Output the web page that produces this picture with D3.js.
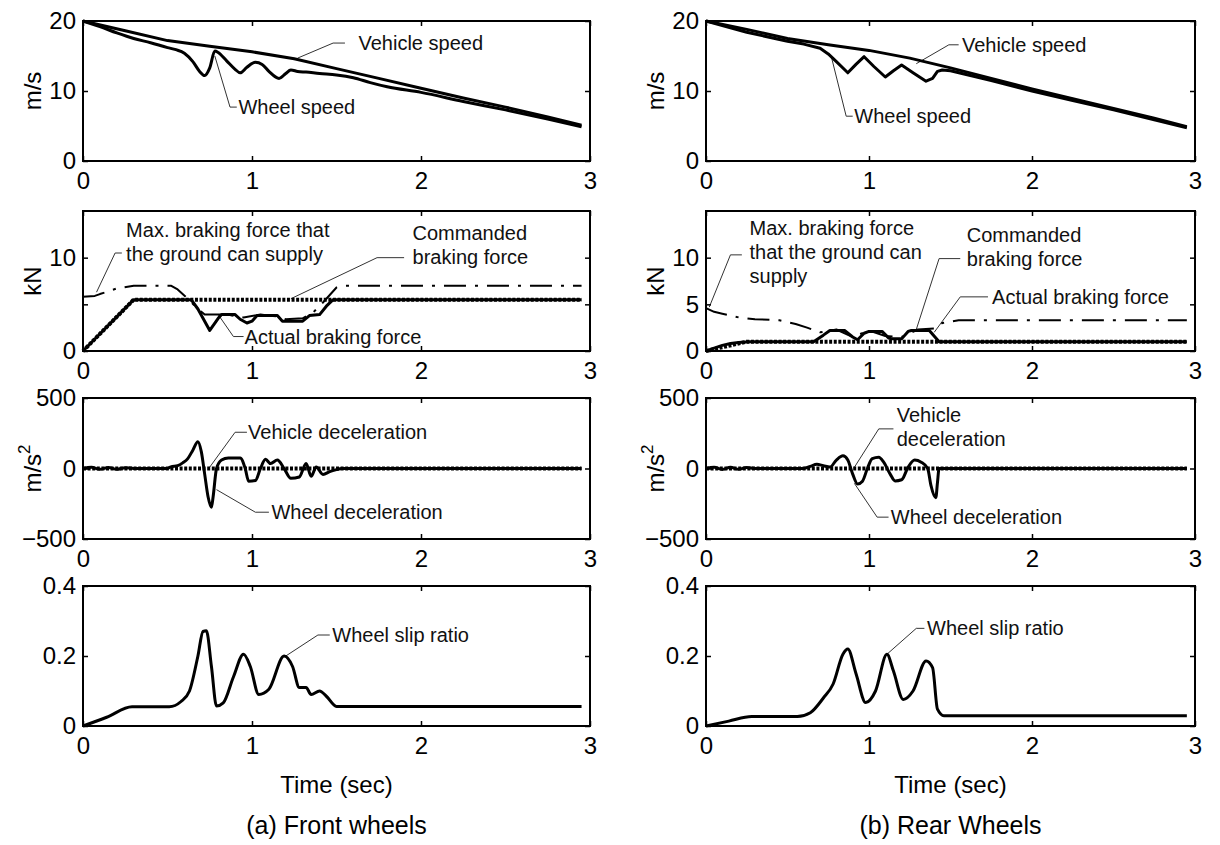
<!DOCTYPE html>
<html>
<head>
<meta charset="utf-8">
<script src="https://cdn.jsdelivr.net/npm/d3@7"></script>
<style>
  body { margin: 0; background: #fff; }
  svg { display: block; font-family: "Liberation Sans", Arial, Helvetica, sans-serif; }
</style>
</head>
<body>
<svg width="1220" height="845"></svg>
<script>
const timeTicks = [0, 1, 2, 3];

// speeds (m/s) as [time, value]
const frontVehicleSpeed = [[0,20],[0.25,18.6],[0.5,17.2],[0.75,16.4],[1.0,15.6],[1.25,14.6],[1.5,13.2],[1.75,11.8],[2.0,10.4],[2.25,9.0],[2.5,7.7],[2.75,6.3],[2.95,5.1]];
const frontWheelSpeed = [[0,20],[0.1,19.2],[0.2,18.3],[0.3,17.5],[0.4,16.9],[0.5,16.2],[0.55,15.9],[0.6,15.4],[0.65,14.2],[0.69,12.8],[0.72,12.2],[0.75,13.3],[0.78,15.7],[0.8,15.5],[0.85,14.3],[0.9,13.1],[0.93,12.6],[0.97,13.4],[1.02,14.1],[1.06,13.8],[1.1,12.8],[1.16,11.8],[1.2,12.5],[1.23,13.0],[1.27,12.8],[1.32,12.7],[1.4,12.5],[1.5,12.3],[1.6,11.9],[1.7,11.2],[1.8,10.6],[2.0,9.8],[2.25,8.5],[2.5,7.3],[2.75,6.0],[2.95,4.9]];
const rearVehicleSpeed = [[0,20],[0.25,18.8],[0.5,17.5],[0.75,16.6],[1.0,15.8],[1.25,14.7],[1.5,13.3],[1.75,11.8],[2.0,10.3],[2.25,8.9],[2.5,7.5],[2.75,6.1],[2.95,4.9]];
const rearWheelSpeed = [[0,20],[0.25,18.4],[0.5,17.1],[0.6,16.7],[0.7,16.1],[0.75,15.3],[0.8,14.2],[0.87,12.6],[0.92,13.8],[0.97,14.9],[1.03,13.5],[1.1,12.0],[1.15,12.9],[1.2,13.7],[1.27,12.6],[1.35,11.4],[1.39,11.8],[1.42,12.8],[1.45,13.0],[1.5,12.9],[1.75,11.5],[2.0,10.0],[2.25,8.65],[2.5,7.3],[2.75,5.9],[2.95,4.75]];

// braking forces (kN)
const frontCommandedForce = [[0,0],[0.3,5.5],[2.95,5.5]];
const frontActualForce = [[0,0],[0.3,5.5],[0.64,5.5],[0.68,4.5],[0.75,2.2],[0.8,3.5],[0.82,3.9],[0.9,3.9],[0.93,3.4],[0.97,3.0],[1.0,3.2],[1.03,3.8],[1.15,3.8],[1.18,3.2],[1.3,3.2],[1.34,3.8],[1.4,3.9],[1.44,4.8],[1.48,5.5],[2.95,5.5]];
const frontMaxForce = [[0,5.8],[0.07,5.9],[0.1,6.1],[0.2,6.7],[0.3,7.0],[0.52,7.0],[0.56,6.6],[0.62,5.6],[0.68,4.5],[0.72,3.9],[0.85,3.9],[0.95,3.6],[1.05,3.9],[1.15,3.7],[1.2,3.4],[1.3,3.5],[1.36,4.1],[1.42,5.2],[1.5,6.8],[1.55,7.0],[2.95,7.0]];
const rearCommandedForce = [[0,0],[0.25,1.0],[2.95,1.0]];
const rearActualForce = [[0,0],[0.05,0.3],[0.1,0.6],[0.15,0.8],[0.2,0.9],[0.27,1.0],[0.66,1.0],[0.72,1.7],[0.76,2.2],[0.85,2.2],[0.9,1.5],[0.93,1.2],[0.97,1.9],[1.0,2.1],[1.08,2.1],[1.12,1.4],[1.14,1.3],[1.2,1.3],[1.24,2.1],[1.26,2.2],[1.37,2.2],[1.41,1.4],[1.43,1.0],[2.95,1.0]];
const rearMaxForce = [[0,4.6],[0.05,4.2],[0.1,4.0],[0.2,3.6],[0.3,3.4],[0.45,3.3],[0.55,2.9],[0.62,2.5],[0.7,2.0],[0.8,2.3],[0.9,1.5],[1.0,2.2],[1.1,1.6],[1.2,1.5],[1.3,2.3],[1.4,2.4],[1.45,3.0],[1.55,3.3],[2.95,3.3]];

// decelerations (m/s^2)
const frontVehicleDecel = [[0,0],[2.95,0]];
const frontWheelDecel = [[0,0],[0.05,8],[0.1,-6],[0.15,7],[0.2,-6],[0.25,6],[0.3,0],[0.5,0],[0.52,12],[0.56,20],[0.59,40],[0.62,70],[0.65,130],[0.68,190],[0.7,120],[0.72,-40],[0.74,-200],[0.76,-275],[0.77,-200],[0.79,0],[0.82,60],[0.86,75],[0.93,75],[0.96,0],[0.98,-90],[1.02,-85],[1.05,0],[1.08,65],[1.11,35],[1.15,60],[1.19,0],[1.23,-70],[1.28,-60],[1.32,35],[1.35,-55],[1.38,10],[1.42,-42],[1.46,-22],[1.5,-8],[1.53,0],[2.95,0]];
const rearVehicleDecel = [[0,0],[2.95,0]];
const rearWheelDecel = [[0,0],[0.05,8],[0.1,-7],[0.15,8],[0.2,-6],[0.25,7],[0.3,0],[0.6,0],[0.64,15],[0.68,30],[0.72,20],[0.76,10],[0.8,60],[0.84,90],[0.87,60],[0.9,-40],[0.93,-110],[0.96,-90],[0.99,0],[1.02,70],[1.06,80],[1.09,45],[1.13,-40],[1.16,-88],[1.2,-80],[1.24,10],[1.28,60],[1.32,45],[1.36,0],[1.38,-120],[1.41,-207],[1.42,-100],[1.43,0],[2.95,0]];

// wheel slip ratio
const frontSlip = [[0,0],[0.14,0.025],[0.29,0.055],[0.51,0.055],[0.58,0.07],[0.63,0.1],[0.68,0.2],[0.71,0.27],[0.73,0.272],[0.76,0.17],[0.79,0.057],[0.83,0.066],[0.89,0.14],[0.95,0.205],[0.99,0.17],[1.04,0.09],[1.1,0.105],[1.19,0.2],[1.24,0.17],[1.28,0.11],[1.32,0.11],[1.35,0.09],[1.4,0.1],[1.44,0.085],[1.5,0.056],[2.95,0.056]];
const rearSlip = [[0,0],[0.14,0.014],[0.28,0.027],[0.56,0.027],[0.64,0.038],[0.72,0.08],[0.78,0.12],[0.84,0.205],[0.87,0.22],[0.92,0.15],[0.98,0.067],[1.04,0.1],[1.11,0.205],[1.15,0.157],[1.21,0.076],[1.27,0.1],[1.35,0.186],[1.39,0.167],[1.42,0.048],[1.46,0.029],[2.95,0.029]];

// layout
const columns = [
  {left: 83, right: 590, caption: '(a) Front wheels'},
  {left: 706, right: 1195, caption: '(b) Rear Wheels'}
];
const rows = [
  {top: 21, bottom: 161},
  {top: 211, bottom: 351},
  {top: 398, bottom: 539},
  {top: 586, bottom: 726}
];

const solid = {width: 3, dash: null};
const dotted = {width: 4, dash: '3,1.6'};
const dashdot = {width: 2, dash: '22,9,3,9'};
const smooth = d3.curveMonotoneX;

// panels[row][col]; series drawn in listed order
const panels = [
  [
    {domain: [0, 20], ticks: [0, 10, 20], labels: [0, 10, 20], ylabel: 'm/s',
     series: [{data: frontVehicleSpeed, style: solid}, {data: frontWheelSpeed, style: solid, curve: smooth}],
     notes: [
       {lines: ['Vehicle speed'], at: [1.63, 16.85], leader: [[1.55, 16.85], [1.48, 16.85], [1.27, 14.7]]},
       {lines: ['Wheel speed'], at: [0.92, 7.7], leader: [[0.91, 7.7], [0.87, 7.7], [0.78, 15.0]]}
     ]},
    {domain: [0, 20], ticks: [0, 10, 20], labels: [0, 10, 20], ylabel: 'm/s',
     series: [{data: rearVehicleSpeed, style: solid}, {data: rearWheelSpeed, style: solid}],
     notes: [
       {lines: ['Vehicle speed'], at: [1.57, 16.6], leader: [[1.55, 16.6], [1.49, 16.6], [1.29, 13.9]]},
       {lines: ['Wheel speed'], at: [0.91, 6.4], leader: [[0.9, 6.4], [0.86, 6.4], [0.77, 14.8]]}
     ]}
  ],
  [
    {domain: [0, 15], ticks: [0, 5, 10], labels: [0, 10], ylabel: 'kN',
     series: [{data: frontMaxForce, style: dashdot}, {data: frontActualForce, style: solid}, {data: frontCommandedForce, style: dotted}],
     notes: [
       {lines: ['Max. braking force that', 'the ground can supply'], at: [0.255, 13.0], leader: [[0.23, 10.5], [0.19, 10.5], [0.08, 6.3]]},
       {lines: ['Commanded', 'braking force'], at: [1.95, 12.6], leader: [[1.9, 10.0], [1.74, 10.0], [1.23, 5.6]]},
       {lines: ['Actual braking force'], at: [0.956, 1.55], leader: [[0.95, 1.55], [0.89, 1.55], [0.8, 3.9]]}
     ]},
    {domain: [0, 15], ticks: [0, 5, 10], labels: [0, 5, 10], ylabel: 'kN',
     series: [{data: rearMaxForce, style: dashdot}, {data: rearActualForce, style: solid}, {data: rearCommandedForce, style: dotted}],
     notes: [
       {lines: ['Max. braking force', 'that the ground can', 'supply'], at: [0.267, 13.15], leader: [[0.22, 10.3], [0.15, 10.3], [0.02, 4.7]]},
       {lines: ['Commanded', 'braking force'], at: [1.6, 12.4], leader: [[1.56, 9.9], [1.43, 9.9], [1.29, 2.3]]},
       {lines: ['Actual braking force'], at: [1.755, 5.8], leader: [[1.73, 5.8], [1.56, 5.8], [1.4, 2.0]]}
     ]}
  ],
  [
    {domain: [-500, 500], ticks: [-500, 0, 500], labels: [-500, 0, 500], ylabel: 'm/s2',
     series: [{data: frontWheelDecel, style: solid, curve: smooth}, {data: frontVehicleDecel, style: dotted}],
     notes: [
       {lines: ['Vehicle deceleration'], at: [0.977, 257], leader: [[0.97, 257], [0.9, 257], [0.75, 10]]},
       {lines: ['Wheel deceleration'], at: [1.115, -310], leader: [[1.1, -310], [1.02, -310], [0.79, -150]]}
     ]},
    {domain: [-500, 500], ticks: [-500, 0, 500], labels: [-500, 0, 500], ylabel: 'm/s2',
     series: [{data: rearWheelDecel, style: solid, curve: smooth}, {data: rearVehicleDecel, style: dotted}],
     notes: [
       {lines: ['Vehicle', 'deceleration'], at: [1.17, 376], leader: [[1.15, 281], [1.06, 281], [0.91, 8]]},
       {lines: ['Wheel deceleration'], at: [1.134, -345], leader: [[1.12, -345], [1.05, -345], [0.91, -105]]}
     ]}
  ],
  [
    {domain: [0, 0.4], ticks: [0, 0.2, 0.4], labels: [0, 0.2, 0.4], ylabel: null,
     series: [{data: frontSlip, style: solid, curve: smooth}],
     notes: [
       {lines: ['Wheel slip ratio'], at: [1.475, 0.26], leader: [[1.46, 0.26], [1.39, 0.26], [1.2, 0.2]]}
     ]},
    {domain: [0, 0.4], ticks: [0, 0.2, 0.4], labels: [0, 0.2, 0.4], ylabel: null,
     series: [{data: rearSlip, style: solid, curve: smooth}],
     notes: [
       {lines: ['Wheel slip ratio'], at: [1.356, 0.279], leader: [[1.34, 0.279], [1.29, 0.279], [1.11, 0.205]]}
     ]}
  ]
];

const svg = d3.select('svg');
const tickFont = 24;
const noteFont = 20;
const lineGap = 24;
const fmt = (d) => String(d).replace('-', '\u2212');

let drawPanel = (col, row, p) => {
  const x = d3.scaleLinear().domain([0, 3]).range([col.left, col.right]);
  const y = d3.scaleLinear().domain(p.domain).range([row.bottom, row.top]);
  const line = d3.line().x(d => x(d[0])).y(d => y(d[1]));
  const g = svg.append('g');

  // leaders under the data
  p.notes.forEach((n) => {
    g.append('path')
      .attr('fill', 'none')
      .attr('stroke', '#333')
      .attr('stroke-width', 1)
      .attr('d', line(n.leader));
  });

  p.series.forEach((s) => {
    g.append('path')
      .datum(s.data)
      .attr('fill', 'none')
      .attr('stroke', '#000')
      .attr('stroke-width', s.style.width)
      .attr('stroke-dasharray', s.style.dash)
      .attr('stroke-linejoin', 'round')
      .attr('d', line.curve(s.curve || d3.curveLinear));
  });

  // box
  g.append('rect')
    .attr('x', col.left).attr('y', row.top)
    .attr('width', col.right - col.left).attr('height', row.bottom - row.top)
    .attr('fill', 'none').attr('stroke', '#000').attr('stroke-width', 2);

  const styleAxis = (a) => {
    a.select('.domain').remove();
    a.attr('font-size', tickFont).attr('font-family', null);
    a.selectAll('line').attr('stroke', '#000').attr('stroke-width', 1.5);
    a.selectAll('text').attr('fill', '#000');
  };
  g.append('g').attr('transform', `translate(0,${row.bottom})`)
    .call(d3.axisBottom(x).tickValues(timeTicks).tickSize(-5).tickPadding(11).tickFormat(d3.format('d')))
    .call(styleAxis);
  g.append('g').attr('transform', `translate(0,${row.top})`)
    .call(d3.axisTop(x).tickValues(timeTicks).tickSize(-5).tickFormat(''))
    .call(styleAxis);
  g.append('g').attr('transform', `translate(${col.left},0)`)
    .call(d3.axisLeft(y).tickValues(p.ticks).tickSize(-5).tickPadding(7)
      .tickFormat(d => p.labels.includes(d) ? fmt(d) : ''))
    .call(styleAxis);
  g.append('g').attr('transform', `translate(${col.right},0)`)
    .call(d3.axisRight(y).tickValues(p.ticks).tickSize(-5).tickFormat(''))
    .call(styleAxis);

  if (p.ylabel) {
    const cy = (row.top + row.bottom) / 2;
    const t = g.append('text')
      .attr('transform', `translate(${col.left - 50},${cy}) rotate(-90)`)
      .attr('text-anchor', 'middle')
      .attr('dy', '0.35em')
      .attr('font-size', tickFont);
    if (p.ylabel === 'm/s2') {
      t.append('tspan').text('m/s');
      t.append('tspan').attr('font-size', 17).attr('dy', '-0.7em').text('2');
    } else {
      t.text(p.ylabel);
    }
  }

  p.notes.forEach((n) => {
    const tx = g.append('text')
      .attr('font-size', noteFont)
      .attr('fill', '#111');
    n.lines.forEach((s, i) => {
      tx.append('tspan')
        .attr('x', x(n.at[0]))
        .attr('y', y(n.at[1]) + i * lineGap)
        .attr('dy', '0.35em')
        .text(s);
    });
  });
};

columns.forEach((col, c) => {
  rows.forEach((row, r) => drawPanel(col, row, panels[r][c]));
  const cx = (col.left + col.right) / 2;
  svg.append('text')
    .attr('x', cx).attr('y', 785).attr('dy', '0.35em')
    .attr('text-anchor', 'middle').attr('font-size', tickFont)
    .text('Time (sec)');
  svg.append('text')
    .attr('x', cx).attr('y', 825).attr('dy', '0.35em')
    .attr('text-anchor', 'middle').attr('font-size', 25)
    .text(col.caption);
});
</script>
</body>
</html>
